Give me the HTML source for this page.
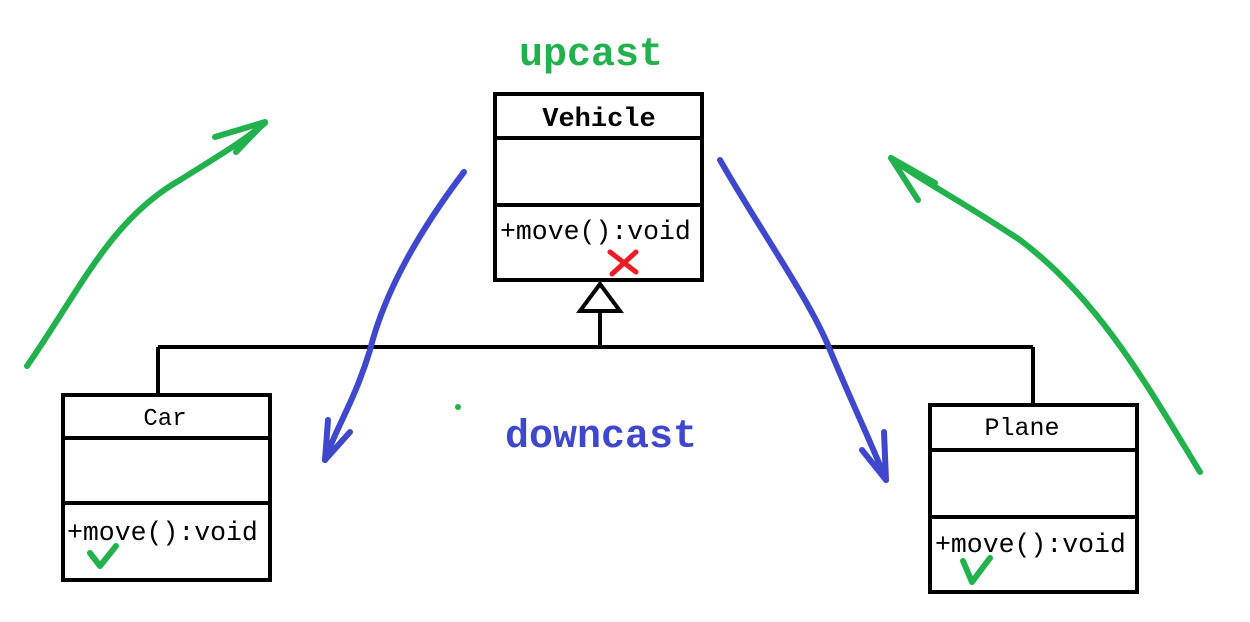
<!DOCTYPE html>
<html><head><meta charset="utf-8"><style>
html,body{margin:0;padding:0;background:#fff;width:1250px;height:622px;overflow:hidden}
svg text{font-family:"Liberation Mono","DejaVu Sans Mono",monospace}
</style></head><body>
<svg width="1250" height="622" viewBox="0 0 1250 622" xmlns="http://www.w3.org/2000/svg">
<g fill="none" stroke="#000" stroke-width="4">
<rect x="495" y="94" width="207" height="186"/>
<line x1="495" y1="138" x2="702" y2="138"/>
<line x1="495" y1="205" x2="702" y2="205"/>
<rect x="63" y="395" width="207" height="185"/>
<line x1="63" y1="438" x2="270" y2="438"/>
<line x1="63" y1="503" x2="270" y2="503"/>
<rect x="930" y="405" width="207" height="187"/>
<line x1="930" y1="450" x2="1137" y2="450"/>
<line x1="930" y1="517" x2="1137" y2="517"/>
<polygon points="600,284 580,311 620,311"/>
<line x1="600" y1="311" x2="600" y2="347"/>
<line x1="158" y1="347" x2="1033" y2="347"/>
<line x1="158" y1="347" x2="158" y2="395"/>
<line x1="1033" y1="347" x2="1033" y2="405"/>
</g>
<text x="599" y="126" font-size="27" font-weight="bold" text-anchor="middle">Vehicle</text>
<text x="500" y="239" font-size="26.5">+move():void</text>
<text x="165" y="425" font-size="24" text-anchor="middle">Car</text>
<text x="67" y="540" font-size="26.5">+move():void</text>
<text x="1022" y="435" font-size="25" text-anchor="middle">Plane</text>
<text x="935" y="552" font-size="26.5">+move():void</text>
<text x="591" y="65" font-size="40" font-weight="bold" fill="#22b14c" text-anchor="middle">upcast</text>
<text x="601" y="447" font-size="40" font-weight="bold" fill="#3f48cc" text-anchor="middle">downcast</text>
<circle cx="458" cy="407" r="3" fill="#22b14c"/>
<g stroke="#ed1c24" stroke-width="5" stroke-linecap="round"><line x1="610" y1="252" x2="636" y2="272"/><line x1="636" y1="252" x2="612" y2="274"/></g>
<g fill="none" stroke="#22b14c" stroke-width="6" stroke-linecap="round" stroke-linejoin="round">
<path d="M90,553 L100,566 L116,546"/>
<path d="M963,561 L972,582 L990,558"/>
<path d="M27,366 C80,290 110,220 180,180 C220,155 245,140 265,123"/>
<path d="M215,137 L265,122 L236,152"/>
<path d="M1200,472 C1150,390 1100,300 1020,240 C960,200 920,180 891,158"/>
<path d="M891,158 L935,183 M891,158 L918,200"/>
</g>
<g fill="none" stroke="#3f48cc" stroke-width="6" stroke-linecap="round" stroke-linejoin="round">
<path d="M464,172 C420,230 385,290 370,350 C355,400 335,430 325,460"/>
<path d="M325,460 L350,432 M325,460 L328,420"/>
<path d="M720,160 C760,230 810,300 830,350 C855,410 870,440 886,480"/>
<path d="M886,480 L884,432 M886,480 L862,450"/>
</g>
</svg>
</body></html>
